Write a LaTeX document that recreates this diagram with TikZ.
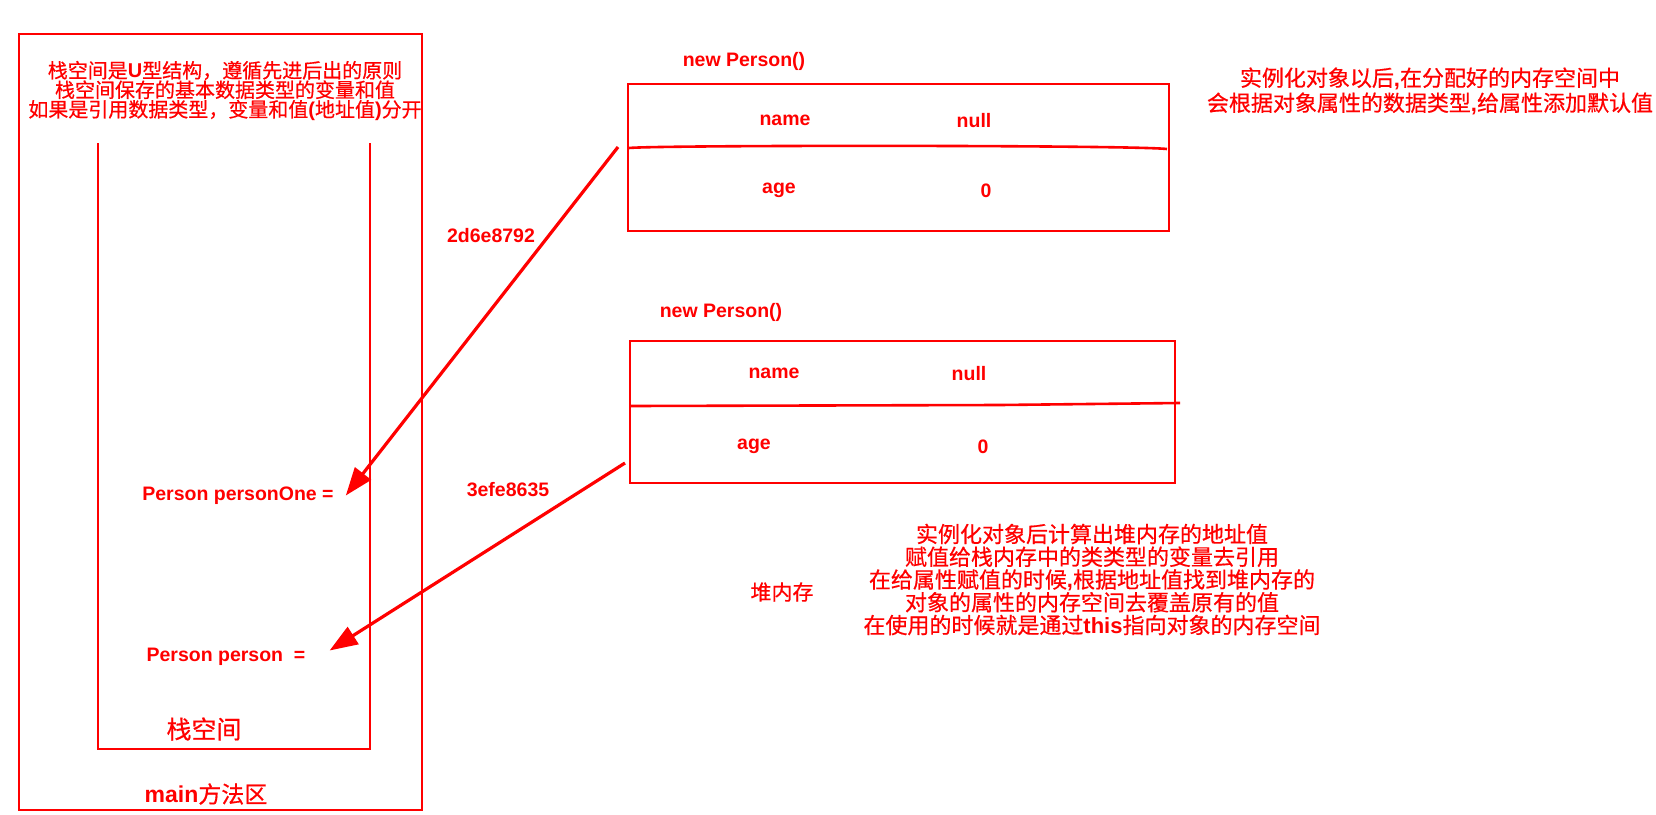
\documentclass[tikz,border=0pt]{standalone}
\usepackage{fontspec}
\setmainfont{Liberation Sans}
\newfontfamily\cjk[FakeBold=0.6]{Noto Sans CJK SC}
\usetikzlibrary{arrows.meta,calc}
\newcommand\enb[1]{{\rmfamily\bfseries #1}}
\begin{document}
\begin{tikzpicture}[x=1pt,y=-1pt,
  frame/.style={draw=red, line width=2.6pt, fill=none, inner sep=0pt, outer sep=0pt},
  en/.style={text=red, font=\fontsize{19.5}{22}\selectfont\bfseries, inner sep=0pt, yshift=-2.5pt},
  cn/.style={text=red, inner sep=0pt, align=center},
  arr/.style={draw=red, line width=3.2pt, -{Triangle[length=28pt,width=20pt]}},
  divider/.style={draw=red, line width=2.6pt}
]
\useasboundingbox (0,0) rectangle (1656,814);

% method area and stack
\node[frame, line width=2.8pt, minimum width=403pt, minimum height=776pt] (outer) at (220.5,422) {};
\draw[red, line width=2.4pt] (98,143) coordinate (uL) -- (98,749) -- (370,749) -- (370,143) coordinate (uR);

\node[cn, font=\fontsize{20}{19.5}\selectfont\cjk] (stacknote) at (225,91)
  {栈空间是\enb{U}型结构，遵循先进后出的原则\\栈空间保存的基本数据类型的变量和值\\如果是引用数据类型，变量和值\enb{(}地址值\enb{)}分开};
\node[cn, font=\fontsize{25}{28}\selectfont\cjk] (stacklbl) at (204,729) {栈空间};
\node[cn, font=\fontsize{23}{26}\selectfont\cjk] (mainlbl) at (206,794) {\enb{main}方法区};

\node[en] (pOne) at (238,493) {Person personOne =};
\node[en] (pTwo) at (226,654) {Person person\ \ =};

% heap objects
\node[en] (np1) at (744,59) {new Person()};
\node[frame, minimum width=541pt, minimum height=147pt] (h1) at (898.5,157.5) {};
\draw[divider] (629,148) .. controls (660,145) and (1130,145) .. (1167,149);
\node[en] (n1) at (785,118) {name};
\node[en] (v1) at (974,118) {null};
\node[en] (a1) at (779,188) {age};
\node[en] (z1) at (986,188) {0};

\node[en] (np2) at (721,310) {new Person()};
\node[frame, minimum width=545pt, minimum height=142pt] (h2) at (902.5,412) {};
\draw[divider] (630,406) -- (1000,405) -- (1180,403);
\node[en] (n2) at (774,371) {name};
\node[en] (v2) at (969,371) {null};
\node[en] (a2) at (754,444) {age};
\node[en] (z2) at (983,444) {0};

% addresses
\node[en] (ad1) at (491,233) {2d6e8792};
\node[en] (ad2) at (508,487) {3efe8635};

\coordinate (s1) at ($(h1.west)+(-10,-10.5)$);
\coordinate (t1) at ($(pOne.east)+(12,0)$);
\coordinate (s2) at ($(h2.west)+(-5,51)$);
\coordinate (t2) at ($(pTwo.east)+(24,-6)$);
\draw[arr] (s1) -- (t1);
\draw[arr] (s2) -- (t2);

% notes
\node[cn, font=\fontsize{22}{25}\selectfont\cjk] (note1) at (1430,91)
  {实例化对象以后\enb{,}在分配好的内存空间中\\会根据对象属性的数据类型\enb{,}给属性添加默认值};
\node[cn, font=\fontsize{21}{24}\selectfont\cjk] (heaplbl) at (782,592) {堆内存};
\node[cn, font=\fontsize{22}{22.75}\selectfont\cjk] (note2) at (1092,579.5)
  {实例化对象后计算出堆内存的地址值\\赋值给栈内存中的类类型的变量去引用\\在给属性赋值的时候\enb{,}根据地址值找到堆内存的\\对象的属性的内存空间去覆盖原有的值\\在使用的时候就是通过\enb{this}指向对象的内存空间};
\end{tikzpicture}
\end{document}
